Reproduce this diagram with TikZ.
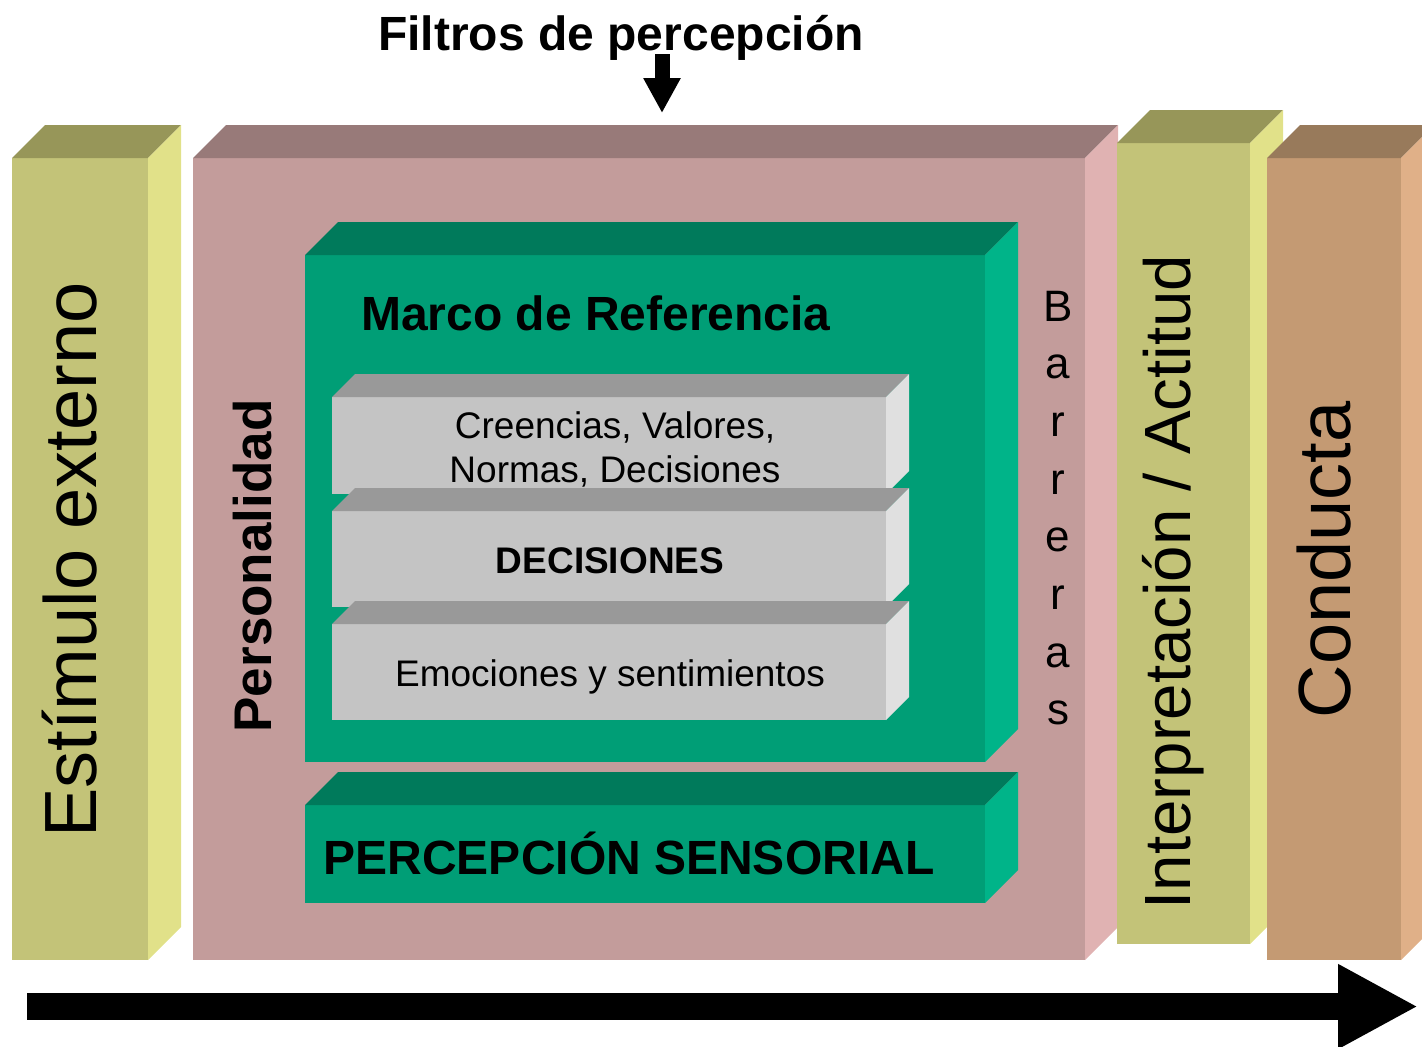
\documentclass[tikz,border=0pt]{standalone}
\usepackage{fontspec}
\setmainfont{Liberation Sans}
\usetikzlibrary{arrows.meta}

\definecolor{olivoF}{HTML}{C3C378}
\definecolor{olivoT}{HTML}{979659}
\definecolor{olivoS}{HTML}{E1E189}
\definecolor{rosaF}{HTML}{C39C9B}
\definecolor{rosaT}{HTML}{987A79}
\definecolor{rosaS}{HTML}{E0B2B2}
\definecolor{verdeF}{HTML}{009E76}
\definecolor{verdeT}{HTML}{007A5B}
\definecolor{verdeS}{HTML}{00B489}
\definecolor{grisF}{HTML}{C4C4C4}
\definecolor{grisT}{HTML}{999999}
\definecolor{grisS}{HTML}{E0E0E0}
\definecolor{cafeF}{HTML}{C49A73}
\definecolor{cafeT}{HTML}{987A5B}
\definecolor{cafeS}{HTML}{E0B088}

% caja 3D: x, y, ancho, alto, fondo, frente, tapa, lado
\newcommand{\caja}[8]{%
  \fill[#6] (#1,#2) rectangle ++(#3,#4);
  \fill[#7] (#1,#2) -- ++(#5,-#5) -- ++(#3,0) -- ++(-#5,#5) -- cycle;
  \fill[#8] (#1+#3,#2) -- ++(#5,-#5) -- ++(0,#4) -- ++(-#5,#5) -- cycle;
}

\begin{document}
\begin{tikzpicture}
            [x=0.5pt, y=-0.5pt,
        titulo/.style={anchor=base, font=\fontsize{24}{28}\selectfont\bfseries},
        vertical/.style={anchor=base, rotate=90, font=\fontsize{37}{40}\selectfont},
        capa/.style={anchor=base, font=\fontsize{18.5}{22}\selectfont},
        barrera/.style={anchor=base, font=\fontsize{22}{26}\selectfont},
        flecha/.style={-{Triangle[length=17.5pt, width=17.5pt]}, line width=7.5pt}]
            \clip (0,0) rectangle (1422,1046);

            % cajas
            \caja{12}{158}{136}{802}{33}{olivoF}{olivoT}{olivoS}
            \caja{193}{158}{892}{802}{33}{rosaF}{rosaT}{rosaS}
            \caja{1117}{143}{133}{801}{33}{olivoF}{olivoT}{olivoS}
            \caja{1267}{158}{134}{802}{33}{cafeF}{cafeT}{cafeS}
            \caja{305}{255}{680}{507}{33}{verdeF}{verdeT}{verdeS}
            \caja{305}{805}{680}{98}{33}{verdeF}{verdeT}{verdeS}
            \caja{332}{397}{554}{97}{23}{grisF}{grisT}{grisS}
            \caja{332}{511}{554}{96}{23}{grisF}{grisT}{grisS}
            \caja{332}{624}{554}{96}{23}{grisF}{grisT}{grisS}

            % textos
            \node[titulo] (filtros) at (621,50) {Filtros de percepción};
            \node[titulo] (marco) at (596,330) {Marco de Referencia};
            \node[titulo] (sensorial) at (629,874) {PERCEPCIÓN SENSORIAL};
            \node[capa, align=center] (creencias) at (615,482) {Creencias, Valores,\\Normas, Decisiones};
            \node[capa, font=\fontsize{18.5}{22}\selectfont\bfseries] (decisiones) at (610,573) {DECISIONES};
            \node[capa] (emociones) at (610,686) {Emociones y sentimientos};
            \node[vertical] (estimulo) at (96,560) {Estímulo externo};
            \node[vertical, font=\fontsize{26.5}{30}\selectfont\bfseries] (personalidad) at (271,566) {Personalidad};
            \node[vertical, font=\fontsize{32.7}{36}\selectfont] (interpretacion) at (1190,582) {Interpretación / Actitud};
            \node[vertical] (conducta) at (1350,560) {Conducta};
            \foreach \letra [count=\i from 0] in {B,a,r,r,e,r,a,s}
                \node[barrera] (barrera\i) at (1058,321+57.7*\i) {\letra};

            % flechas
            \coordinate (filtroIni) at (662,54);
            \coordinate (filtroFin) at (662,113);
            \coordinate (flujoIni) at (27,1006.5);
            \coordinate (flujoFin) at (1418,1006.5);
            \draw[flecha] (filtroIni) -- (filtroFin);
            \draw[-{Triangle[length=40pt, width=39.5pt]}, line width=13.5pt] (flujoIni) -- (flujoFin);
        \end{tikzpicture}
\end{document}
